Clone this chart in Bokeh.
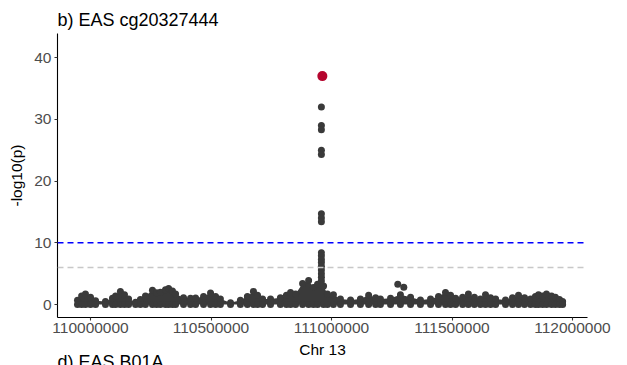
from bokeh.plotting import figure
from bokeh.models import Range1d, FixedTicker, BasicTickFormatter, Span, Title, ColumnDataSource
from bokeh.embed import file_html
from bokeh.resources import INLINE

# ---- data ----
title_text = "b) EAS cg20327444"
x_label = "Chr 13"
y_label = "-log10(p)"
x_ticks = [110000000, 110500000, 111000000, 111500000, 112000000]
y_ticks = [0, 10, 20, 30, 40]
genome_wide = 10
suggestive = 6

# upper envelope of the dense background cloud of SNPs
band_pos = [109946000, 109963000, 109979000, 110000000, 110021000, 110062000, 110091000,
            110104000, 110124000, 110141000, 110158000, 110187000, 110207000, 110228000,
            110257000, 110274000, 110290000, 110311000, 110324000, 110340000, 110353000,
            110386000, 110415000, 110436000, 110469000, 110498000, 110519000, 110539000,
            110581000, 110622000, 110651000, 110676000, 110693000, 110714000, 110747000,
            110788000, 110813000, 110830000, 110851000, 110880000, 110905000, 110925000,
            110942000, 110967000, 110983000, 111008000, 111037000, 111079000, 111120000,
            111154000, 111183000, 111203000, 111245000, 111286000, 111328000, 111369000,
            111411000, 111444000, 111473000, 111494000, 111515000, 111544000, 111568000,
            111593000, 111618000, 111639000, 111660000, 111681000, 111722000, 111751000,
            111776000, 111801000, 111826000, 111846000, 111859000, 111876000, 111892000,
            111913000, 111929000, 111946000, 111959000]
band_top = [0.7, 1.4, 1.7, 1.2, 0.6, 0.5, 1.0,
            1.4, 2.1, 1.6, 0.9, 0.35, 0.8, 1.4,
            2.3, 1.9, 2.0, 2.4, 2.6, 2.2, 1.7,
            1.1, 1.0, 1.05, 1.3, 1.85, 1.3, 0.9,
            0.3, 0.7, 1.3, 2.1, 1.5, 0.9, 0.9,
            1.1, 1.5, 1.95, 1.7, 3.4, 3.9, 2.75,
            3.3, 3.0, 1.7, 1.6, 0.9, 0.75, 0.9,
            1.5, 1.1, 0.9, 1.0, 1.6, 1.2, 0.75,
            0.9, 1.3, 1.95, 1.5, 1.0, 1.2, 1.7,
            1.2, 0.9, 1.6, 1.1, 0.9, 0.75, 1.1,
            1.5, 1.1, 0.9, 1.3, 1.6, 1.4, 1.7,
            1.4, 1.2, 0.8, 0.5]

# isolated SNPs above the cloud
snp_pos = [110958000] * 17 + [111275000, 111300000]
snp_logp = [32.0, 29.0, 28.3, 25.0, 24.3, 14.7, 14.0, 13.4, 8.4, 7.9, 7.3, 6.8,
            6.2, 5.6, 5.0, 4.4, 3.8, 3.3, 2.8]

lead_pos = [110962000]
lead_logp = [37.0]

# title of the next panel of the original multi-panel figure, cut off at the bottom
below_fragment = "d) EAS B01A"

# ---- figure ----
FONT = "Liberation Sans"
p = figure(width=627, height=365, output_backend="svg", toolbar_location=None,
           x_range=Range1d(109863000, 112062240), y_range=Range1d(-2.1, 43.9),
           min_border_left=57, min_border_right=40, min_border_top=33, min_border_bottom=48)
p.outline_line_color = None
p.xgrid.visible = False
p.ygrid.visible = False
p.background_fill_color = "white"
p.border_fill_color = "white"

p.title.text = title_text
p.title.text_font = FONT
p.title.text_font_size = "18px"
p.title.text_font_style = "normal"
p.title.text_color = "black"
p.title.align = "left"
p.title.offset = 0
p.title.standoff = 8

for ax in (p.xaxis[0], p.yaxis[0]):
    ax.axis_line_color = "black"
    ax.axis_line_width = 1.1
    ax.major_tick_line_color = "#333333"
    ax.major_tick_line_width = 1.1
    ax.major_tick_in = 0
    ax.major_tick_out = 3
    ax.minor_tick_line_color = None
    ax.major_label_text_font = FONT
    ax.major_label_text_font_size = "15.5px"
    ax.major_label_text_color = "#4D4D4D"
    ax.axis_label_text_font = FONT
    ax.axis_label_text_font_size = "15.5px"
    ax.axis_label_text_font_style = "normal"
    ax.axis_label_text_color = "black"

p.xaxis.ticker = FixedTicker(ticks=x_ticks)
p.xaxis.formatter = BasicTickFormatter(use_scientific=False)
p.xaxis.axis_label = x_label
p.xaxis.major_label_standoff = 2
p.xaxis.axis_label_standoff = 5

p.yaxis.ticker = FixedTicker(ticks=y_ticks)
p.yaxis.axis_label = y_label
p.yaxis.major_label_standoff = 3
p.yaxis.axis_label_standoff = 6

p.add_layout(Span(location=genome_wide, dimension="width", line_color="#0000FF",
                  line_width=1.5, line_dash="6 4"))
p.add_layout(Span(location=suggestive, dimension="width", line_color="#C8C8C8",
                  line_width=1.5, line_dash="6 4"))

DOT = "#3A3A3A"
band = ColumnDataSource(dict(x=band_pos, top=band_top, zero=[0] * len(band_pos)))
p.varea(x="x", y1="zero", y2="top", source=band, fill_color=DOT)
p.scatter(x="x", y="top", source=band, size=7, fill_color=DOT, line_color=None)
p.scatter(x="x", y="zero", source=band, size=7, fill_color=DOT, line_color=None)

p.scatter(x=snp_pos, y=snp_logp, size=7, fill_color=DOT, line_color=None)
p.scatter(x=lead_pos, y=lead_logp, size=10, fill_color="#B5052E", line_color=None)

# next panel's title, partly below the window edge
try:
    nxt = Title(text=below_fragment, align="left", vertical_align="top", offset=0,
                standoff=-18, text_font=FONT, text_font_size="18px",
                text_font_style="normal", text_color="black")
    p.add_layout(nxt, "below")
except Exception:
    pass

open("out.html", "w").write(file_html(p, INLINE))
